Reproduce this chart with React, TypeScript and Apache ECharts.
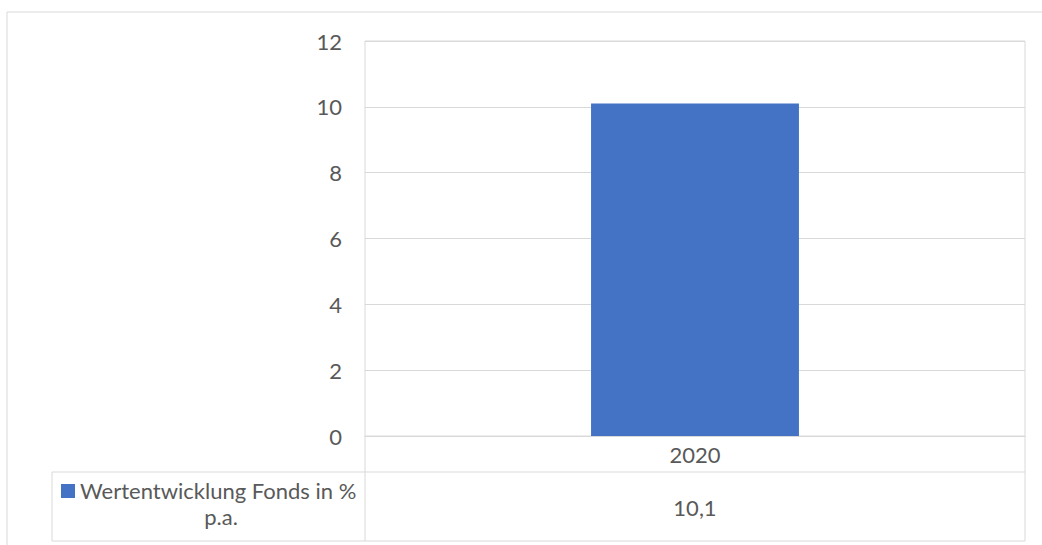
import React, { useEffect, useRef } from "react";
import * as echarts from "echarts";

const categories: string[] = ["2020"];
const seriesName = "Wertentwicklung Fonds in % p.a.";
const values: number[] = [10.1];
const yTicks = { min: 0, max: 12, interval: 2 };

const FONT = "Lato, 'Liberation Sans', Arial, sans-serif";
const FS = 22;
const TEXT = "#595959";
const LINE = "#d9d9d9";
const BLUE = "#4472C4";

const fmt = (v: number) => String(v).replace(".", ",");

export default function App() {
  const ref = useRef<HTMLDivElement>(null);
  useEffect(() => {
    if (!ref.current) return;
    const chart = echarts.init(ref.current, undefined, { renderer: "svg" });
    const L = 365, R = 1025, T = 41, B = 436;
    const rowCat = 472, rowData = 541, tableLeft = 52;
    const lineStyle = { stroke: LINE, lineWidth: 1 };
    chart.setOption({
      animation: false,
      backgroundColor: "#ffffff",
      textStyle: { fontFamily: FONT },
      grid: {
        left: L,
        right: 1042 - R,
        top: T,
        bottom: 545 - B,
        show: true,
        borderColor: LINE,
        borderWidth: 1,
      },
      xAxis: {
        type: "category",
        data: categories,
        axisLine: { show: true, lineStyle: { color: LINE, width: 1 } },
        axisTick: { show: false },
        axisLabel: { color: TEXT, fontSize: FS, fontFamily: FONT, margin: 7 },
      },
      yAxis: {
        type: "value",
        min: yTicks.min,
        max: yTicks.max,
        interval: yTicks.interval,
        axisLine: { show: false },
        axisTick: { show: false },
        splitLine: { lineStyle: { color: LINE, width: 1 } },
        axisLabel: { color: TEXT, fontSize: FS, fontFamily: FONT, margin: 23 },
      },
      series: [
        {
          type: "bar",
          name: seriesName,
          data: values,
          barWidth: "31.5%",
          itemStyle: { color: BLUE },
        },
      ],
      graphic: [
        {
          type: "rect",
          silent: true,
          shape: { x: 7, y: 12, width: 1200, height: 700 },
          style: { fill: "none", stroke: LINE, lineWidth: 1 },
        },
        { type: "line", shape: { x1: L, y1: B, x2: L, y2: rowData }, style: lineStyle },
        { type: "line", shape: { x1: R, y1: B, x2: R, y2: rowData }, style: lineStyle },
        { type: "line", shape: { x1: tableLeft, y1: rowCat, x2: R, y2: rowCat }, style: lineStyle },
        { type: "line", shape: { x1: tableLeft, y1: rowData, x2: R, y2: rowData }, style: lineStyle },
        { type: "line", shape: { x1: tableLeft, y1: rowCat, x2: tableLeft, y2: rowData }, style: lineStyle },
        {
          type: "rect",
          shape: { x: 61, y: 484, width: 14, height: 14 },
          style: { fill: BLUE },
        },
        {
          type: "text",
          x: 221,
          y: 477,
          style: {
            text: seriesName,
            width: 285,
            overflow: "break",
            align: "center",
            verticalAlign: "top",
            lineHeight: 26,
            fill: TEXT,
            font: `${FS}px ${FONT}`,
          },
        },
        ...values.map((v, i) => ({
          type: "text",
          x: L + ((R - L) / categories.length) * (i + 0.5),
          y: 507,
          style: {
            text: fmt(v),
            align: "center",
            verticalAlign: "middle",
            fill: TEXT,
            font: `${FS}px ${FONT}`,
          },
        })),
      ],
    });
    return () => chart.dispose();
  }, []);
  return (
    <div
      ref={ref}
      style={{ position: "fixed", left: 0, top: 0, width: 1042, height: 545 }}
    />
  );
}
